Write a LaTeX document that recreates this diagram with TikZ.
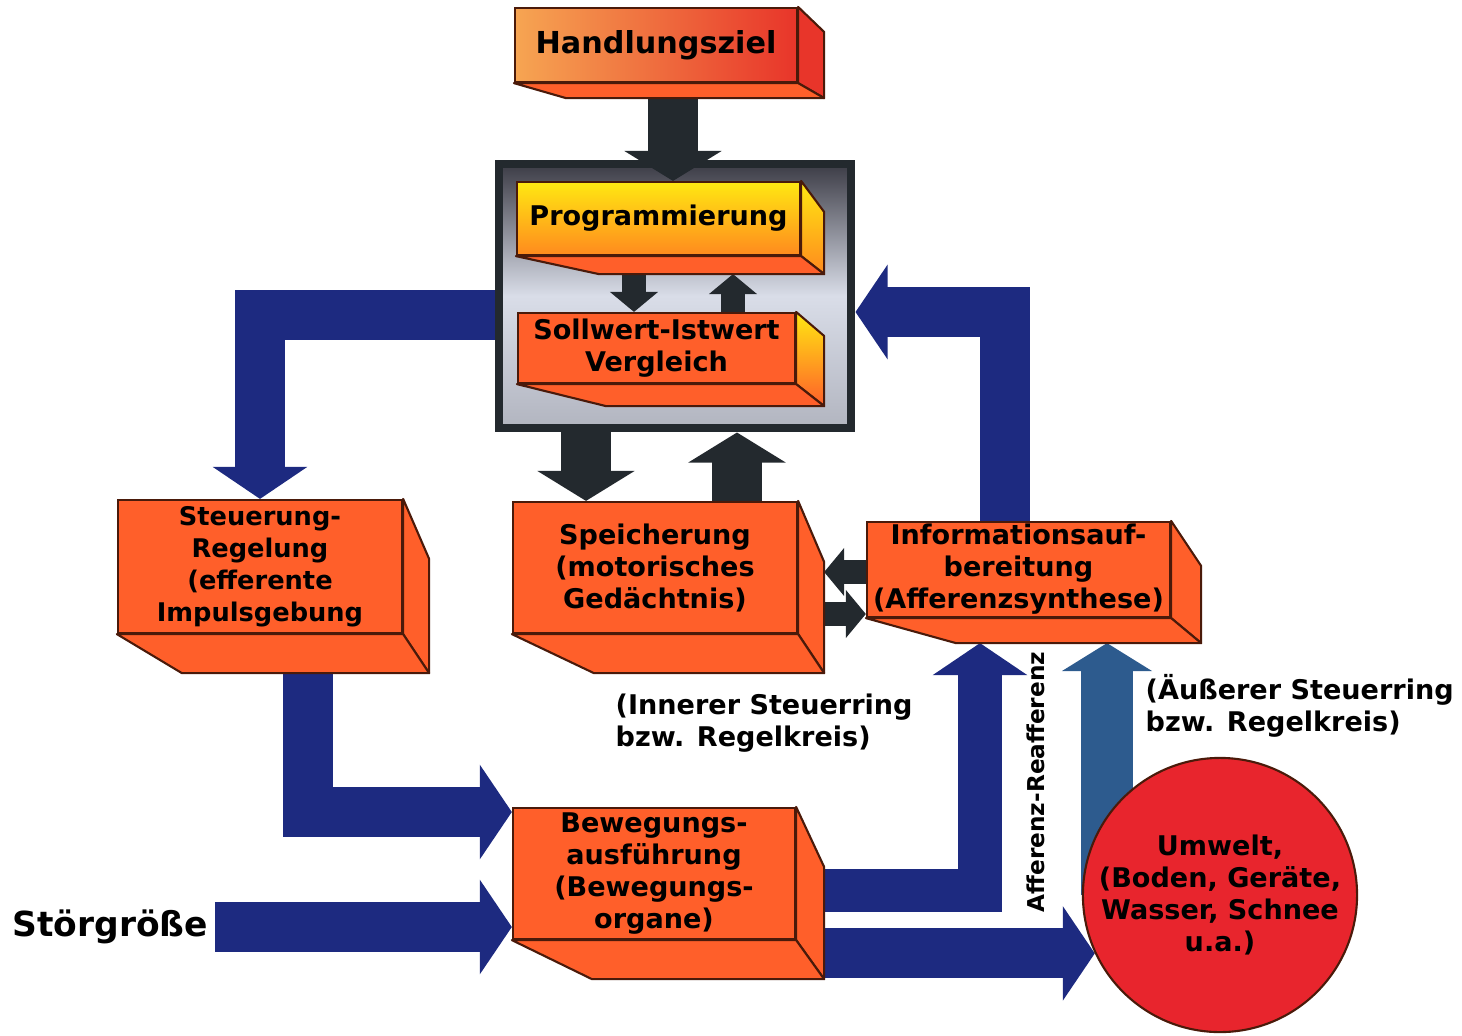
\documentclass[tikz,border=0pt]{standalone}
\usepackage{fontspec}
\setmainfont{DejaVu Sans}
\usepackage{tikz}
\usetikzlibrary{arrows.meta,calc}
\definecolor{navy}{HTML}{1D2A80}
\definecolor{steel}{HTML}{2D5B8E}
\definecolor{charcoal}{HTML}{23292E}
\definecolor{face}{HTML}{FF5F2A}
\definecolor{edge}{HTML}{4A1A0A}
\definecolor{umred}{HTML}{E8252D}
\definecolor{hzleft}{HTML}{F6A552}
\definecolor{hzright}{HTML}{E8352A}
\definecolor{progtop}{HTML}{FFE812}
\definecolor{progbot}{HTML}{FF8A1E}
\definecolor{metaldark}{HTML}{3C3C46}
\definecolor{metallight}{HTML}{D9DDE8}
\pgfdeclarelayer{back}
\pgfdeclarelayer{mid}
\pgfsetlayers{back,mid,main}

% side and bottom face of a box: node, dx, drop, depth, offset, side style
\newcommand{\slab}[6]{%
  \draw[edgeline, #6] (#1.north east) -- ++(#2,#3) -- ($(#1.south east)+(#2,#4)$) -- (#1.south east) -- cycle;
  \draw[edgeline, fill=face] (#1.south west) -- (#1.south east) -- ++(#2,#4) -- ($(#1.south west)+(#5,#4)$) -- cycle;
  \coordinate (#1-r) at ($(#1.east)+(#2,0)$);
  \coordinate (#1-b) at ($(#1.south)+(0,#4)$);
}

\begin{document}
\begin{tikzpicture}[
  x=0.01cm, y=-0.01cm,
  font=\bfseries\fontsize{7.7}{9.1}\selectfont,
  box/.style={draw=edge, line width=0.6pt, fill=face, align=center, inner sep=0pt},
  edgeline/.style={draw=edge, line width=0.6pt, line join=round},
  navyarrow/.style={draw=navy, line width=5mm, line join=miter, -{Triangle[length=3.2mm, width=9.3mm]}},
  steelarrow/.style={draw=steel, line width=5.2mm, -{Triangle[length=2.8mm, width=8.9mm]}},
  darkarrow/.style={draw=charcoal, line width=5mm, -{Triangle[length=3mm, width=9.6mm]}},
  smallarrow/.style={draw=charcoal, line width=2.4mm, -{Triangle[length=2mm, width=4.7mm]}},
  note/.style={align=left, inner sep=0pt, anchor=west}
]
  \useasboundingbox (0,0) rectangle (1462,1035);

  \begin{pgfonlayer}{back}
    \node[draw=charcoal, line width=2.5pt, top color=metaldark, bottom color=metallight!75!metaldark,
          middle color=metallight, minimum width=3.52cm, minimum height=2.64cm, inner sep=0pt] (metal) at (675,296) {};
  \end{pgfonlayer}

  \node[box, minimum width=2.82cm, minimum height=0.74cm, left color=hzleft, right color=hzright,
        font=\bfseries\fontsize{8.6}{10}\selectfont] (hz) at (656,45) {Handlungsziel};
  \node[box, minimum width=2.83cm, minimum height=0.73cm, top color=progtop, bottom color=progbot] (prog) at (658.5,218.5) {Programmierung};
  \node[box, minimum width=2.77cm, minimum height=0.70cm] (soll) at (656.5,348) {Sollwert-Istwert\\Vergleich};
  \node[box, minimum width=2.84cm, minimum height=1.33cm, font=\bfseries\fontsize{7.3}{9.1}\selectfont] (steu) at (260,566.5) {Steuerung-\\Regelung\\(efferente\\Impulsgebung};
  \node[box, minimum width=2.84cm, minimum height=1.31cm] (speich) at (655,567.5) {Speicherung\\(motorisches\\Gedächtnis)};
  \node[box, minimum width=3.03cm, minimum height=0.95cm] (info) at (1018.5,569.5) {Informationsauf-\\bereitung\\(Afferenzsynthese)};
  \node[box, minimum width=2.82cm, minimum height=1.31cm] (beweg) at (654,873.5) {Bewegungs-\\ausführung\\(Bewegungs-\\organe)};

  \slab{hz}{26}{25}{15}{52}{fill=hzright}
  \slab{prog}{23}{31}{18}{83}{top color=progtop, bottom color=progbot}
  \slab{soll}{28}{24}{22}{89}{top color=progtop, bottom color=face}
  \slab{steu}{26}{60}{39}{65}{fill=face}
  \slab{speich}{26}{61}{39}{82}{fill=face}
  \slab{info}{30}{45}{25}{90}{fill=face}
  \slab{beweg}{28}{60}{39}{80}{fill=face}

  \node[draw=edge, line width=0.6pt, fill=umred, circle, minimum size=2.74cm, inner sep=0pt, align=center] (umwelt) at (1220,895)
    {Umwelt,\\(Boden, Geräte,\\Wasser, Schnee\\u.a.)};

  \node[font=\bfseries\fontsize{9.8}{11}\selectfont, anchor=west, inner sep=0pt] (stoer) at (12,927) {Störgröße};
  \node[note] (inner) at (615,723) {(Innerer Steuerring\\bzw. Regelkreis)};
  \node[note] (outer) at (1145,706) {(Äußerer Steuerring\\bzw. Regelkreis)};
  \node[rotate=90, font=\bfseries\fontsize{6.6}{8}\selectfont, inner sep=0pt] (affrea) at (1036,782) {Afferenz-Reafferenz};

  \begin{pgfonlayer}{mid}
    % inner loop
    \draw[darkarrow] (hz-b -| 673,0) -- (prog.north -| 673,0);
    \draw[smallarrow] (prog-b -| 634,0) -- (soll.north -| 634,0);
    \draw[smallarrow] (soll.north -| 733,0) -- (prog-b -| 733,0);
    \draw[darkarrow] (metal.south -| 586,0) -- (speich.north -| 586,0);
    \draw[darkarrow] (speich.north -| 737,0) -- (metal.south -| 737,0);
    \draw[smallarrow] (info.west |- 0,572) -- (speich-r |- 0,572);
    \draw[smallarrow] (speich-r |- 0,614) -- (info.west |- 0,614);
    % outer loop
    \draw[navyarrow] (metal.west |- 0,315) -| (steu.north);
    \draw[navyarrow] (info.north -| 1005,0) |- (metal.east |- 0,312);
    \draw[navyarrow] (steu-b -| 308,0) |- (beweg.west |- 0,812);
    \draw[navyarrow] ([xshift=0.06cm]stoer.east) -- (beweg.west |- stoer.east);
    \draw[navyarrow, line width=4.3mm] (beweg-r |- 0,890) -| (info-b -| 980,0);
    \draw[navyarrow] (beweg-r |- umwelt.205) -- (umwelt.205);
    \draw[steelarrow] (umwelt -| 1107,0) -- (info-b -| 1107,0);
  \end{pgfonlayer}
\end{tikzpicture}
\end{document}
